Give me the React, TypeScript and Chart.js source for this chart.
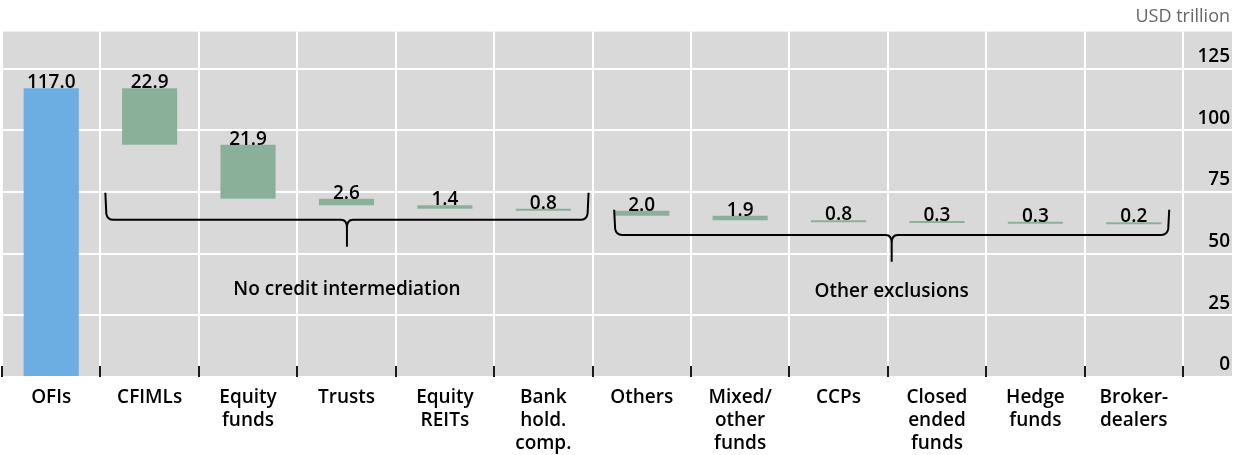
import React, { useEffect, useRef } from "react";
import { Chart, registerables } from "chart.js";

Chart.register(...registerables);

const categories: string[][] = [
  ["OFIs"], ["CFIMLs"], ["Equity", "funds"], ["Trusts"], ["Equity", "REITs"],
  ["Bank", "hold.", "comp."], ["Others"], ["Mixed/", "other", "funds"], ["CCPs"],
  ["Closed", "ended", "funds"], ["Hedge", "funds"], ["Broker-", "dealers"],
];
const values: number[] = [117.0, 22.9, 21.9, 2.6, 1.4, 0.8, 2.0, 1.9, 0.8, 0.3, 0.3, 0.2];
const valueLabels: string[] = ["117.0", "22.9", "21.9", "2.6", "1.4", "0.8", "2.0", "1.9", "0.8", "0.3", "0.3", "0.2"];
const groupLabels: string[] = ["No credit intermediation", "Other exclusions"];
const groupFrom: number[] = [1, 6];
const groupTo: number[] = [5, 11];
const yMax = 140;
const yStep = 25;
const unitLabel = "USD trillion";

// brace geometry (data units / category fractions)
const braceGeom = [
  { left: -0.45, right: 0.46, top: 74.7, mid: 63.7, tip: 52.8, text: 35.3 },
  { left: -0.28, right: 0.36, top: 67.8, mid: 57.6, tip: 46.7, text: 34.5 },
];

const BLUE = "#6CADE2";
const GREEN = "#8BB09A";
const BG = "#D9D9D9";
const FONT = "'Open Sans', 'Noto Sans', sans-serif";
const W = "600";

function buildRanges(): [number, number][] {
  const out: [number, number][] = [];
  let top = values[0];
  out.push([0, values[0]]);
  for (let i = 1; i < values.length; i++) {
    out.push([top - values[i], top]);
    top -= values[i];
  }
  return out;
}

const overlay = {
  id: "overlay",
  beforeDraw(chart: any) {
    const { ctx, chartArea } = chart;
    const y = chart.scales.y;
    const right = chart.width - 2;
    ctx.save();
    ctx.fillStyle = BG;
    ctx.fillRect(chartArea.left, chartArea.top, right - chartArea.left, chartArea.bottom - chartArea.top);
    ctx.strokeStyle = "#FFFFFF";
    ctx.lineWidth = 2;
    y.ticks.forEach((t: any) => {
      const py = Math.round(y.getPixelForValue(t.value));
      ctx.beginPath();
      ctx.moveTo(chartArea.right, py);
      ctx.lineTo(right, py);
      ctx.stroke();
    });
    ctx.restore();
  },
  afterDatasetsDraw(chart: any) {
    const { ctx, chartArea } = chart;
    const x = chart.scales.x;
    const y = chart.scales.y;
    const catW = (chartArea.right - chartArea.left) / categories.length;
    ctx.save();
    // black boundary ticks
    ctx.strokeStyle = "#1a1a1a";
    ctx.lineWidth = 2;
    for (let i = 0; i <= categories.length; i++) {
      const px = Math.round(chartArea.left + i * catW);
      ctx.beginPath();
      ctx.moveTo(px, chartArea.bottom - 11);
      ctx.lineTo(px, chartArea.bottom);
      ctx.stroke();
    }
    // value labels
    const meta = chart.getDatasetMeta(0);
    ctx.fillStyle = "#000";
    ctx.font = `${W} 19px ${FONT}`;
    ctx.textAlign = "center";
    ctx.textBaseline = "alphabetic";
    meta.data.forEach((bar: any, i: number) => {
      const top = Math.min(bar.y, bar.base);
      ctx.fillText(valueLabels[i], bar.x, top);
    });
    // braces
    ctx.strokeStyle = "#000";
    ctx.lineWidth = 2;
    groupLabels.forEach((lab, g) => {
      const geo = braceGeom[g];
      const l = x.getPixelForValue(groupFrom[g]) + geo.left * catW;
      const r = x.getPixelForValue(groupTo[g]) + geo.right * catW;
      const m = (l + r) / 2;
      const t = y.getPixelForValue(geo.top);
      const h = y.getPixelForValue(geo.mid);
      const tip = y.getPixelForValue(geo.tip);
      const rad = 6;
      ctx.beginPath();
      ctx.moveTo(l, t);
      ctx.quadraticCurveTo(l + 1, h - rad, l + 1, h - rad);
      ctx.quadraticCurveTo(l + 2, h, l + rad + 2, h);
      ctx.lineTo(m - rad, h);
      ctx.quadraticCurveTo(m, h, m, h + rad + 2);
      ctx.lineTo(m, tip);
      ctx.moveTo(m, h + rad + 2);
      ctx.quadraticCurveTo(m, h, m + rad, h);
      ctx.lineTo(r - rad - 2, h);
      ctx.quadraticCurveTo(r - 2, h, r - 1, h - rad);
      ctx.lineTo(r, t);
      ctx.stroke();
      ctx.fillStyle = "#000";
      ctx.font = `${W} 19px ${FONT}`;
      ctx.textAlign = "center";
      ctx.textBaseline = "middle";
      ctx.fillText(lab, m, y.getPixelForValue(geo.text));
    });
    ctx.restore();
  },
};

export default function App() {
  const ref = useRef<HTMLCanvasElement | null>(null);
  useEffect(() => {
    document.body.style.margin = "0";
    if (!ref.current) return;
    Chart.defaults.font.family = FONT;
    const chart = new Chart(ref.current, {
      type: "bar",
      data: {
        labels: categories as any,
        datasets: [
          {
            data: buildRanges() as any,
            backgroundColor: values.map((_, i) => (i === 0 ? BLUE : GREEN)),
            borderWidth: 0,
            barPercentage: 0.56,
            categoryPercentage: 1,
            minBarLength: 2,
          },
        ],
      },
      options: {
        responsive: false,
        animation: false,
        layout: { padding: { left: 2, right: 4, top: 0, bottom: 0 } },
        plugins: {
          legend: { display: false },
          tooltip: { enabled: false },
          title: {
            display: true,
            text: unitLabel,
            align: "end",
            color: "#666",
            font: { size: 18, weight: "normal" as any, family: FONT },
            padding: { top: 6, bottom: 4 },
          },
        },
        scales: {
          x: {
            type: "category",
            offset: true,
            grid: { color: "#FFFFFF", lineWidth: 2, offset: true, drawTicks: false },
            border: { display: false },
            ticks: {
              color: "#000",
              font: { size: 19, family: FONT, lineHeight: 1.21, weight: W as any },
              padding: 9,
              maxRotation: 0,
              autoSkip: false,
            },
            afterFit: (s: any) => { s.height = 78; },
          },
          y: {
            position: "right",
            min: 0,
            max: yMax,
            grid: { color: "#FFFFFF", lineWidth: 2, drawTicks: false },
            border: { display: false },
            ticks: {
              stepSize: yStep,
              includeBounds: false,
              color: "#000",
              font: { size: 19, family: FONT, weight: W as any },
              crossAlign: "far",
              labelOffset: -12,
              padding: 0,
            },
            afterFit: (s: any) => { s.width = 47; },
          },
        },
      },
      plugins: [overlay],
    });
    return () => chart.destroy();
  }, []);
  return (
    <div style={{ position: "absolute", left: 0, top: 0, width: 1234, height: 455 }}>
      <canvas ref={ref} width={1234} height={455} style={{ display: "block" }} />
    </div>
  );
}
